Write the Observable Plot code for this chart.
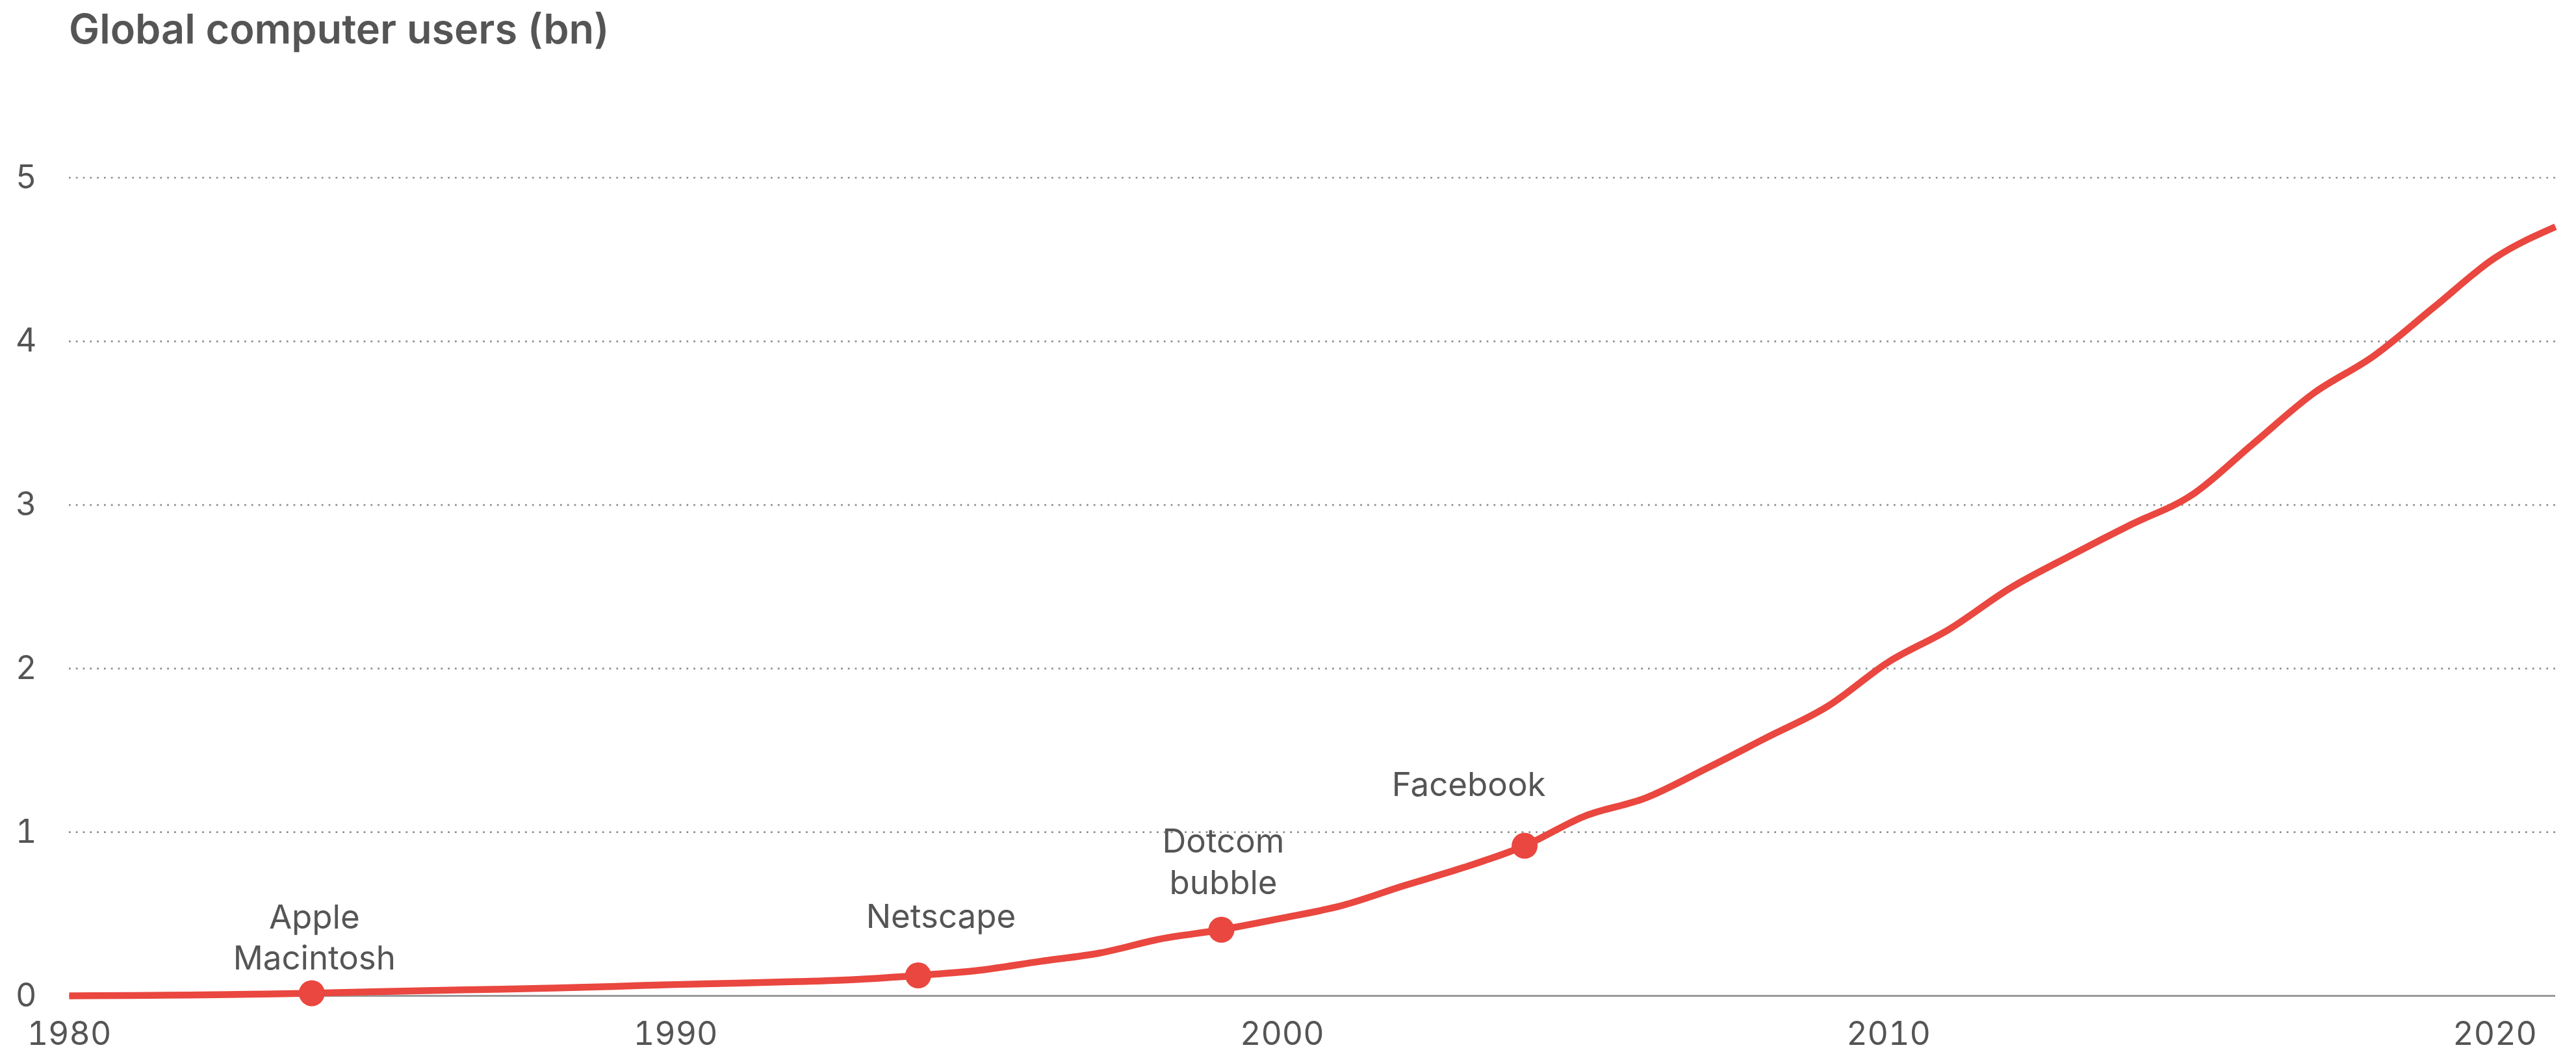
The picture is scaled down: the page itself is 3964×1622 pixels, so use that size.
<!DOCTYPE html>
<html>
<head>
<meta charset="utf-8">
<script src="https://cdn.jsdelivr.net/npm/d3@7"></script>
<script src="https://cdn.jsdelivr.net/npm/@observablehq/plot@0.6"></script>
<style>
  html, body { margin: 0; padding: 0; background: #fff; overflow: hidden; }
  #title {
    box-sizing: border-box;
    height: 110px;
    padding: 12px 0 0 106px;
    font-family: Inter, "Liberation Sans", sans-serif;
    font-weight: 600;
    font-size: 63px;
    line-height: 64px;
    color: #555;
    white-space: nowrap;
  }
</style>
</head>
<body>
<div id="title">Global computer users (bn)</div>
<div id="chart"></div>
<script>
// ---- data ----
const years = [1980, 1981, 1982, 1983, 1984, 1985, 1986, 1987, 1988, 1989,
               1990, 1991, 1992, 1993, 1994, 1995, 1996, 1997, 1998, 1999,
               2000, 2001, 2002, 2003, 2004, 2005, 2006, 2007, 2008, 2009,
               2010, 2011, 2012, 2013, 2014, 2015, 2016, 2017, 2018, 2019,
               2020, 2021];
const users = [0.000, 0.002, 0.005, 0.010, 0.016, 0.025, 0.033, 0.040, 0.048, 0.058,
               0.069, 0.077, 0.087, 0.100, 0.125, 0.156, 0.210, 0.262, 0.348, 0.404,
               0.475, 0.553, 0.672, 0.785, 0.917, 1.100, 1.210, 1.390, 1.580, 1.770,
               2.040, 2.240, 2.490, 2.690, 2.880, 3.060, 3.370, 3.680, 3.910, 4.210,
               4.510, 4.700];
const eventYears = [1984, 1994, 1999, 2004];
const eventLabels = ["Apple\nMacintosh", "Netscape", "Dotcom\nbubble", "Facebook"];
const xTicks = [1980, 1990, 2000, 2010, 2020];
const yTicks = [0, 1, 2, 3, 4, 5];

// ---- layout / style (not data) ----
const labelOffsets = [
  {dx: 4, dy: -36},
  {dx: 35, dy: -73},
  {dx: 3, dy: -55},
  {dx: -86, dy: -77}
];
const RED = "#e9473f";
const INK = "#555555";

const series = years.map((year, i) => ({year, value: users[i]}));
const events = eventYears.map((year, i) => ({
  year,
  value: users[years.indexOf(year)],
  label: eventLabels[i]
}));

const chart = Plot.plot({
  width: 3964,
  height: 1512,
  marginTop: 163,
  marginBottom: 90,
  marginLeft: 106,
  marginRight: 32,
  x: {domain: [1980, 2021]},
  y: {domain: [0, 5]},
  style: {
    fontFamily: "Inter, 'Liberation Sans', sans-serif",
    fontSize: "50px",
    color: INK,
    background: "#fff",
    overflow: "visible"
  },
  marks: [
    Plot.gridY(yTicks.filter(d => d > 0), {
      stroke: "#8c8c8c", strokeOpacity: 1, strokeWidth: 2.7, strokeDasharray: "2.7,8.1"
    }),
    Plot.ruleY([0], {stroke: "#9a9a9a", strokeWidth: 3}),
    Plot.axisY(yTicks, {
      tickSize: 0, tickPadding: 50, label: null, tickFormat: "d", fontSize: 50, fill: INK
    }),
    Plot.axisX(xTicks, {
      tickSize: 0, tickPadding: 40, label: null, tickFormat: "d", fontSize: 50, fill: INK
    }),
    Plot.line(series, {
      x: "year", y: "value", stroke: RED, strokeWidth: 10.5,
      curve: "monotone-x", strokeLinecap: "butt"
    }),
    Plot.dot(events, {x: "year", y: "value", r: 20, fill: RED}),
    ...events.map((e, i) => Plot.text([e], {
      x: "year", y: "value", text: "label",
      dx: labelOffsets[i].dx, dy: labelOffsets[i].dy,
      lineAnchor: "bottom", textAnchor: "middle",
      fontSize: 51, lineHeight: 1.25, fill: INK
    }))
  ]
});
document.getElementById("chart").appendChild(chart);
</script>
</body>
</html>
